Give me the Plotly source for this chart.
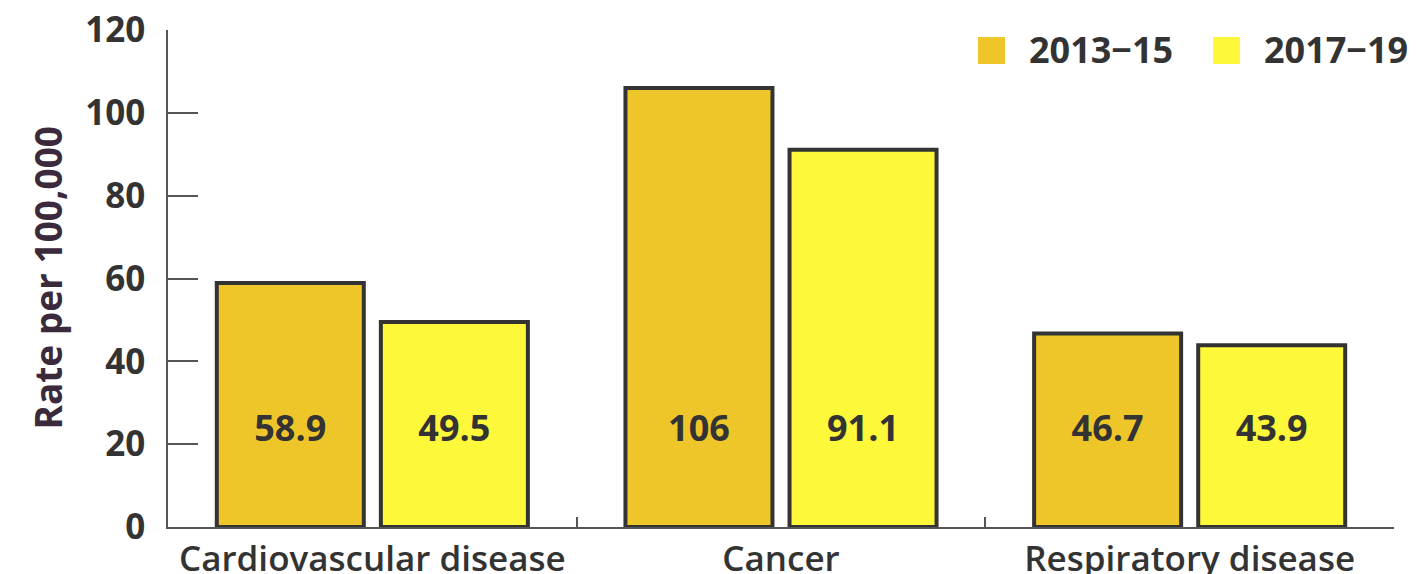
import plotly.graph_objects as go

# Mortality rates per 100,000 by cause and period
categories = ["Cardiovascular disease", "Cancer", "Respiratory disease"]
periods = ["2013−15", "2017−19"]
rates_2013_15 = [58.9, 106, 46.7]
rates_2017_19 = [49.5, 91.1, 43.9]
value_labels_2013_15 = ["58.9", "106", "46.7"]
value_labels_2017_19 = ["49.5", "91.1", "43.9"]
y_ticks = [0, 20, 40, 60, 80, 100, 120]

series = [
    (periods[0], rates_2013_15, value_labels_2013_15, "#EFC62A"),
    (periods[1], rates_2017_19, value_labels_2017_19, "#FEF83A"),
]

FONT = "Open Sans"
INK = "#333333"
AXIS = "#555555"
LABEL_Y = 23  # value labels sit at a common height inside the bars
BAR_GAP = 0.197

fig = go.Figure()

for i, (name, vals, labels, color) in enumerate(series):
    fig.add_trace(go.Bar(
        x=categories, y=vals, name=name, offsetgroup=str(i),
        marker=dict(color=color, line=dict(color=INK, width=4)),
        showlegend=False, hoverinfo="x+y",
    ))

for i, (name, vals, labels, color) in enumerate(series):
    fig.add_trace(go.Scatter(
        x=categories, y=[LABEL_Y] * len(categories), mode="text",
        text=labels, offsetgroup=str(i),
        textfont=dict(family=FONT, size=36, color=INK, weight=700),
        showlegend=False, hoverinfo="skip",
    ))

# legend swatches and labels
legend_layout = [
    dict(sx0=0.6607, sx1=0.6827, tx=0.7007),
    dict(sx0=0.8524, sx1=0.8744, tx=0.8923),
]
for (name, vals, labels, color), pos in zip(series, legend_layout):
    fig.add_shape(type="rect", xref="paper", yref="paper",
                  x0=pos["sx0"], x1=pos["sx1"], y0=0.9316, y1=0.9859,
                  fillcolor=color, line=dict(width=0))
    fig.add_annotation(xref="paper", yref="paper", x=pos["tx"], y=0.9598,
                       xanchor="left", yanchor="middle", showarrow=False,
                       text=name,
                       font=dict(family=FONT, size=36, color=INK, weight=700))

fig.add_annotation(xref="paper", yref="paper", x=0, y=0.5, xshift=-121,
                   xanchor="center", yanchor="middle", showarrow=False,
                   textangle=-90, text="Rate per 100,000",
                   font=dict(family=FONT, size=37, color="#3B2A3B", weight=700))

fig.update_layout(
    width=1418, height=574,
    margin=dict(l=168, r=24, t=30, b=47),
    paper_bgcolor="white", plot_bgcolor="white",
    barmode="group", bargap=BAR_GAP, bargroupgap=0.104,
    scattermode="group", scattergap=BAR_GAP,
    showlegend=False,
    xaxis=dict(
        type="category", tickson="boundaries", ticks="inside", ticklen=10,
        tickcolor=AXIS, tickwidth=1.5, showline=True, linecolor=AXIS,
        linewidth=1.5, showgrid=False, automargin=False,
        ticklabelstandoff=0,
        tickfont=dict(family=FONT, size=35, color=INK, weight=600),
    ),
    yaxis=dict(
        range=[0, 120], tickvals=y_ticks, ticks="inside", ticklen=30,
        tickcolor=AXIS, tickwidth=1.5, showline=True, linecolor=AXIS,
        linewidth=1.5, showgrid=False, zeroline=False, automargin=False,
        ticklabelstandoff=14,
        tickfont=dict(family=FONT, size=35, color=INK, weight=700),
    ),
)

fig.write_html("out.html")
